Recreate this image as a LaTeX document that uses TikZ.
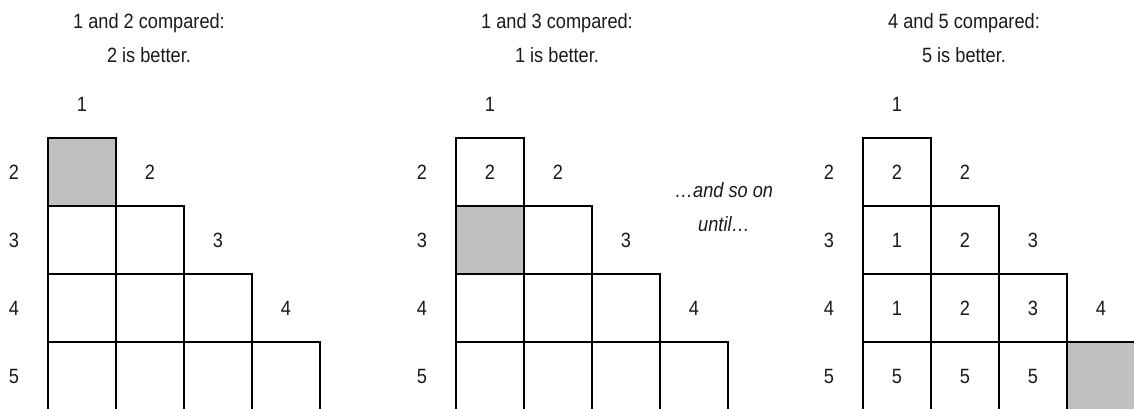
\documentclass[tikz,border=0pt]{standalone}
\usepackage{fontspec}
\setmainfont{Liberation Sans}[FakeStretch=0.88]
\usepackage{xcolor}
\definecolor{cShade}{HTML}{C0C0C0}
\definecolor{cInk}{HTML}{1A1A1A}
\usepackage{tikz}
\usetikzlibrary{positioning}

\begin{document}
\begin{tikzpicture}[
    x=0.75pt, y=-0.75pt,
    lbl/.style={inner sep=0pt, text=cInk, font=\fontsize{15.5}{18}\selectfont},
    caption/.style={lbl, align=center, font=\fontsize{15.5}{25.5}\selectfont},
    cellbox/.style={draw=black, line width=2.2pt, minimum size=51pt, inner sep=0pt}
]
\useasboundingbox (0,0) rectangle (1134,409);
\clip (0,0) rectangle (1134,409);

% three snapshots of the table, offset sideways
\foreach \g/\dx/\gc/\gr/\pa/\pb/\best in {1/0/1/2/1/2/2, 2/408/1/3/1/3/1, 3/815/4/5/4/5/5} {
  \node[caption] (g\g-title) at ({149+\dx}, 38)
    {\pa{} and \pb{} compared:\\\best{} is better.};
  \foreach \r in {2,...,5} {
    \node[lbl] (g\g-row\r) at ({14+\dx}, {104+68*(\r-1)}) {\r};
    \pgfmathtruncatemacro\lastc{\r-1}
    \foreach \c in {1,...,\lastc} {
      \pgfmathtruncatemacro\shd{and(\c==\gc, \r==\gr)}
      \ifnum\shd=1 \def\fillc{cShade}\else\def\fillc{white}\fi
      \node[cellbox, fill=\fillc] (g\g-\c-\r) at ({82+68*(\c-1)+\dx}, {104+68*(\r-1)}) {};
    }
  }
  % column heads on the diagonal
  \foreach \c in {1,...,4}
    \node[lbl] (g\g-col\c) at ({82+68*(\c-1)+\dx}, {104+68*(\c-1)}) {\c};
}

% entries already filled in
\node[lbl] (g2-t12) at (g2-1-2) {2};
\foreach \c/\r/\t in {1/2/2, 1/3/1, 2/3/2, 1/4/1, 2/4/2, 3/4/3, 1/5/5, 2/5/5, 3/5/5}
  \node[lbl] (g3-t\c\r) at (g3-\c-\r) {\t};

\node[caption, font=\itshape\fontsize{15.5}{25.5}\selectfont] (more) at (724, 207)
  {…and so on\\until…};
\end{tikzpicture}
\end{document}
